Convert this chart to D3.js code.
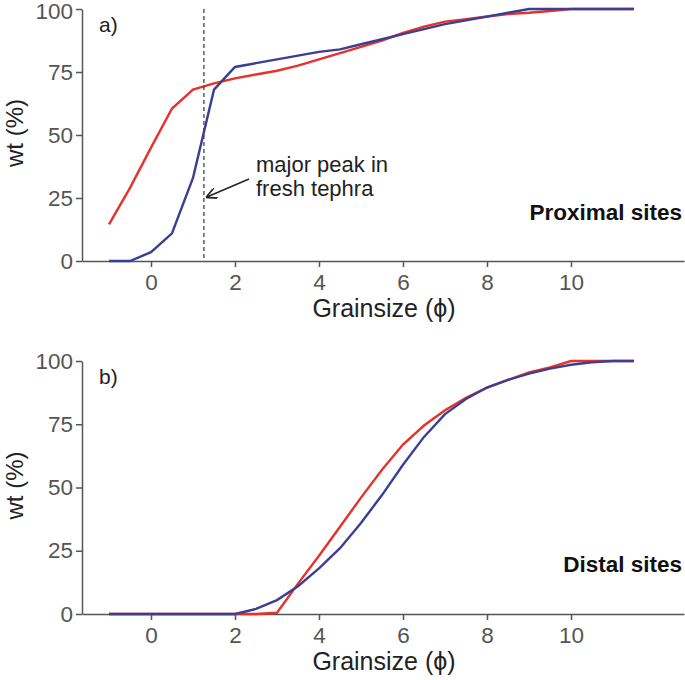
<!DOCTYPE html>
<html><head><meta charset="utf-8">
<script src="https://cdn.jsdelivr.net/npm/d3@7"></script>
<style>body{margin:0;background:#fff}svg{display:block;font-family:"Liberation Sans",Arial,sans-serif}</style>
</head><body><svg id="c" width="685" height="680"></svg>
<script>
const grain = [-1,-0.5,0,0.5,1,1.5,2,2.5,3,3.5,4,4.5,5,5.5,6,6.5,7,7.5,8,8.5,9,9.5,10,10.5,11,11.5];
const proxRed  = [14.5,29,45,60.5,68,70.5,72.5,74,75.5,77.5,80,82.5,85,87.5,90.5,93,95,96,97,98,98.5,99.2,100,100,100,100];
const proxBlue = [0,0,3.5,11,33,68,77,78.5,80,81.5,83,84,86,88,90,92,94,95.5,97,98.5,100,100,100,100,100,100];
const distRed  = [0,0,0,0,0,0,0,0,0.5,12,23,34.5,46,57,67,74.5,80.5,85.5,89.5,92.5,95.5,97.5,100,100,100,100];
const distBlue = [0,0,0,0,0,0,0,2,5.5,11,18,26,36,47,59,70,79,85,89.5,92.5,95,97,98.5,99.5,100,100];
const xTicks = [0,2,4,6,8,10];
const yTicks = [0,25,50,75,100];
const peakX = 1.26;

const svg = d3.select("#c");
const x = d3.scaleLinear().domain([-69/42, 533/42]).range([82, 684]);

function panel(top, bottom, red, blue, label, site, siteY) {
  const y = d3.scaleLinear().domain([0,100]).range([bottom, top]);
  const g = svg.append("g");
  const xa = g.append("g").attr("transform", `translate(0,${bottom})`)
    .call(d3.axisBottom(x).tickValues(xTicks).tickSize(6).tickPadding(7).tickSizeOuter(0));
  const ya = g.append("g").attr("transform", `translate(82,0)`)
    .call(d3.axisLeft(y).tickValues(yTicks).tickSize(6).tickPadding(3).tickSizeOuter(0));
  [xa, ya].forEach(a => {
    a.select(".domain").attr("stroke", "#555").attr("stroke-width", 1.5);
    a.selectAll(".tick line").attr("stroke", "#555").attr("stroke-width", 1.5);
    a.selectAll(".tick text").attr("fill", "#555").style("font-size", "22.5px");
  });
  if (top < 20) ya.selectAll(".tick text").filter(d => d === 100).attr("dy", "0.44em");
  const line = d3.line().x((d,i) => x(grain[i])).y(d => y(d));
  g.append("path").datum(red).attr("fill","none").attr("stroke","#e8312a").attr("stroke-width",2.4).attr("d", line);
  g.append("path").datum(blue).attr("fill","none").attr("stroke","#3b3f92").attr("stroke-width",2.4).attr("d", line);
  g.append("text").attr("x", 99).attr("y", top + 23).text(label)
    .style("font-size","21px").attr("fill","#222");
  g.append("text").attr("x", 682).attr("y", siteY).attr("text-anchor","end").text(site)
    .style("font-size","22.5px").style("font-weight","bold").attr("fill","#111");
  g.append("text").attr("transform", `translate(23,${(top+bottom)/2 - 2}) rotate(-90)`).attr("text-anchor","middle")
    .text("wt (%)").style("font-size","24px").attr("fill","#222");
  g.append("text").attr("x", 384).attr("y", bottom + 56).attr("text-anchor","middle")
    .text("Grainsize (\u03D5)").style("font-size","25px").attr("fill","#222");
  return y;
}

const y1 = panel(9, 261, proxRed, proxBlue, "a)", "Proximal sites", 220);
panel(361, 614, distRed, distBlue, "b)", "Distal sites", 572);

svg.append("line").attr("x1", x(peakX)).attr("x2", x(peakX)).attr("y1", y1(100)).attr("y2", y1(0))
  .attr("stroke","#444").attr("stroke-width",1.3).attr("stroke-dasharray","4,3");
svg.append("defs").append("marker").attr("id","ar").attr("viewBox","0 0 10 10").attr("refX",9).attr("refY",5)
  .attr("markerWidth",11).attr("markerHeight",11).attr("markerUnits","userSpaceOnUse").attr("orient","auto")
  .append("path").attr("d","M0,0 L10,5 L0,10").attr("fill","none").attr("stroke","#222").attr("stroke-width",1.5);
svg.append("line").attr("x1", 249).attr("y1", 179).attr("x2", x(peakX)+3).attr("y2", y1(25)-1)
  .attr("stroke","#222").attr("stroke-width",1.4).attr("marker-end","url(#ar)");
svg.append("text").attr("x",256).attr("y",172).text("major peak in").style("font-size","22px").attr("fill","#222");
svg.append("text").attr("x",256).attr("y",196).text("fresh tephra").style("font-size","22px").attr("fill","#222");
</script></body></html>
